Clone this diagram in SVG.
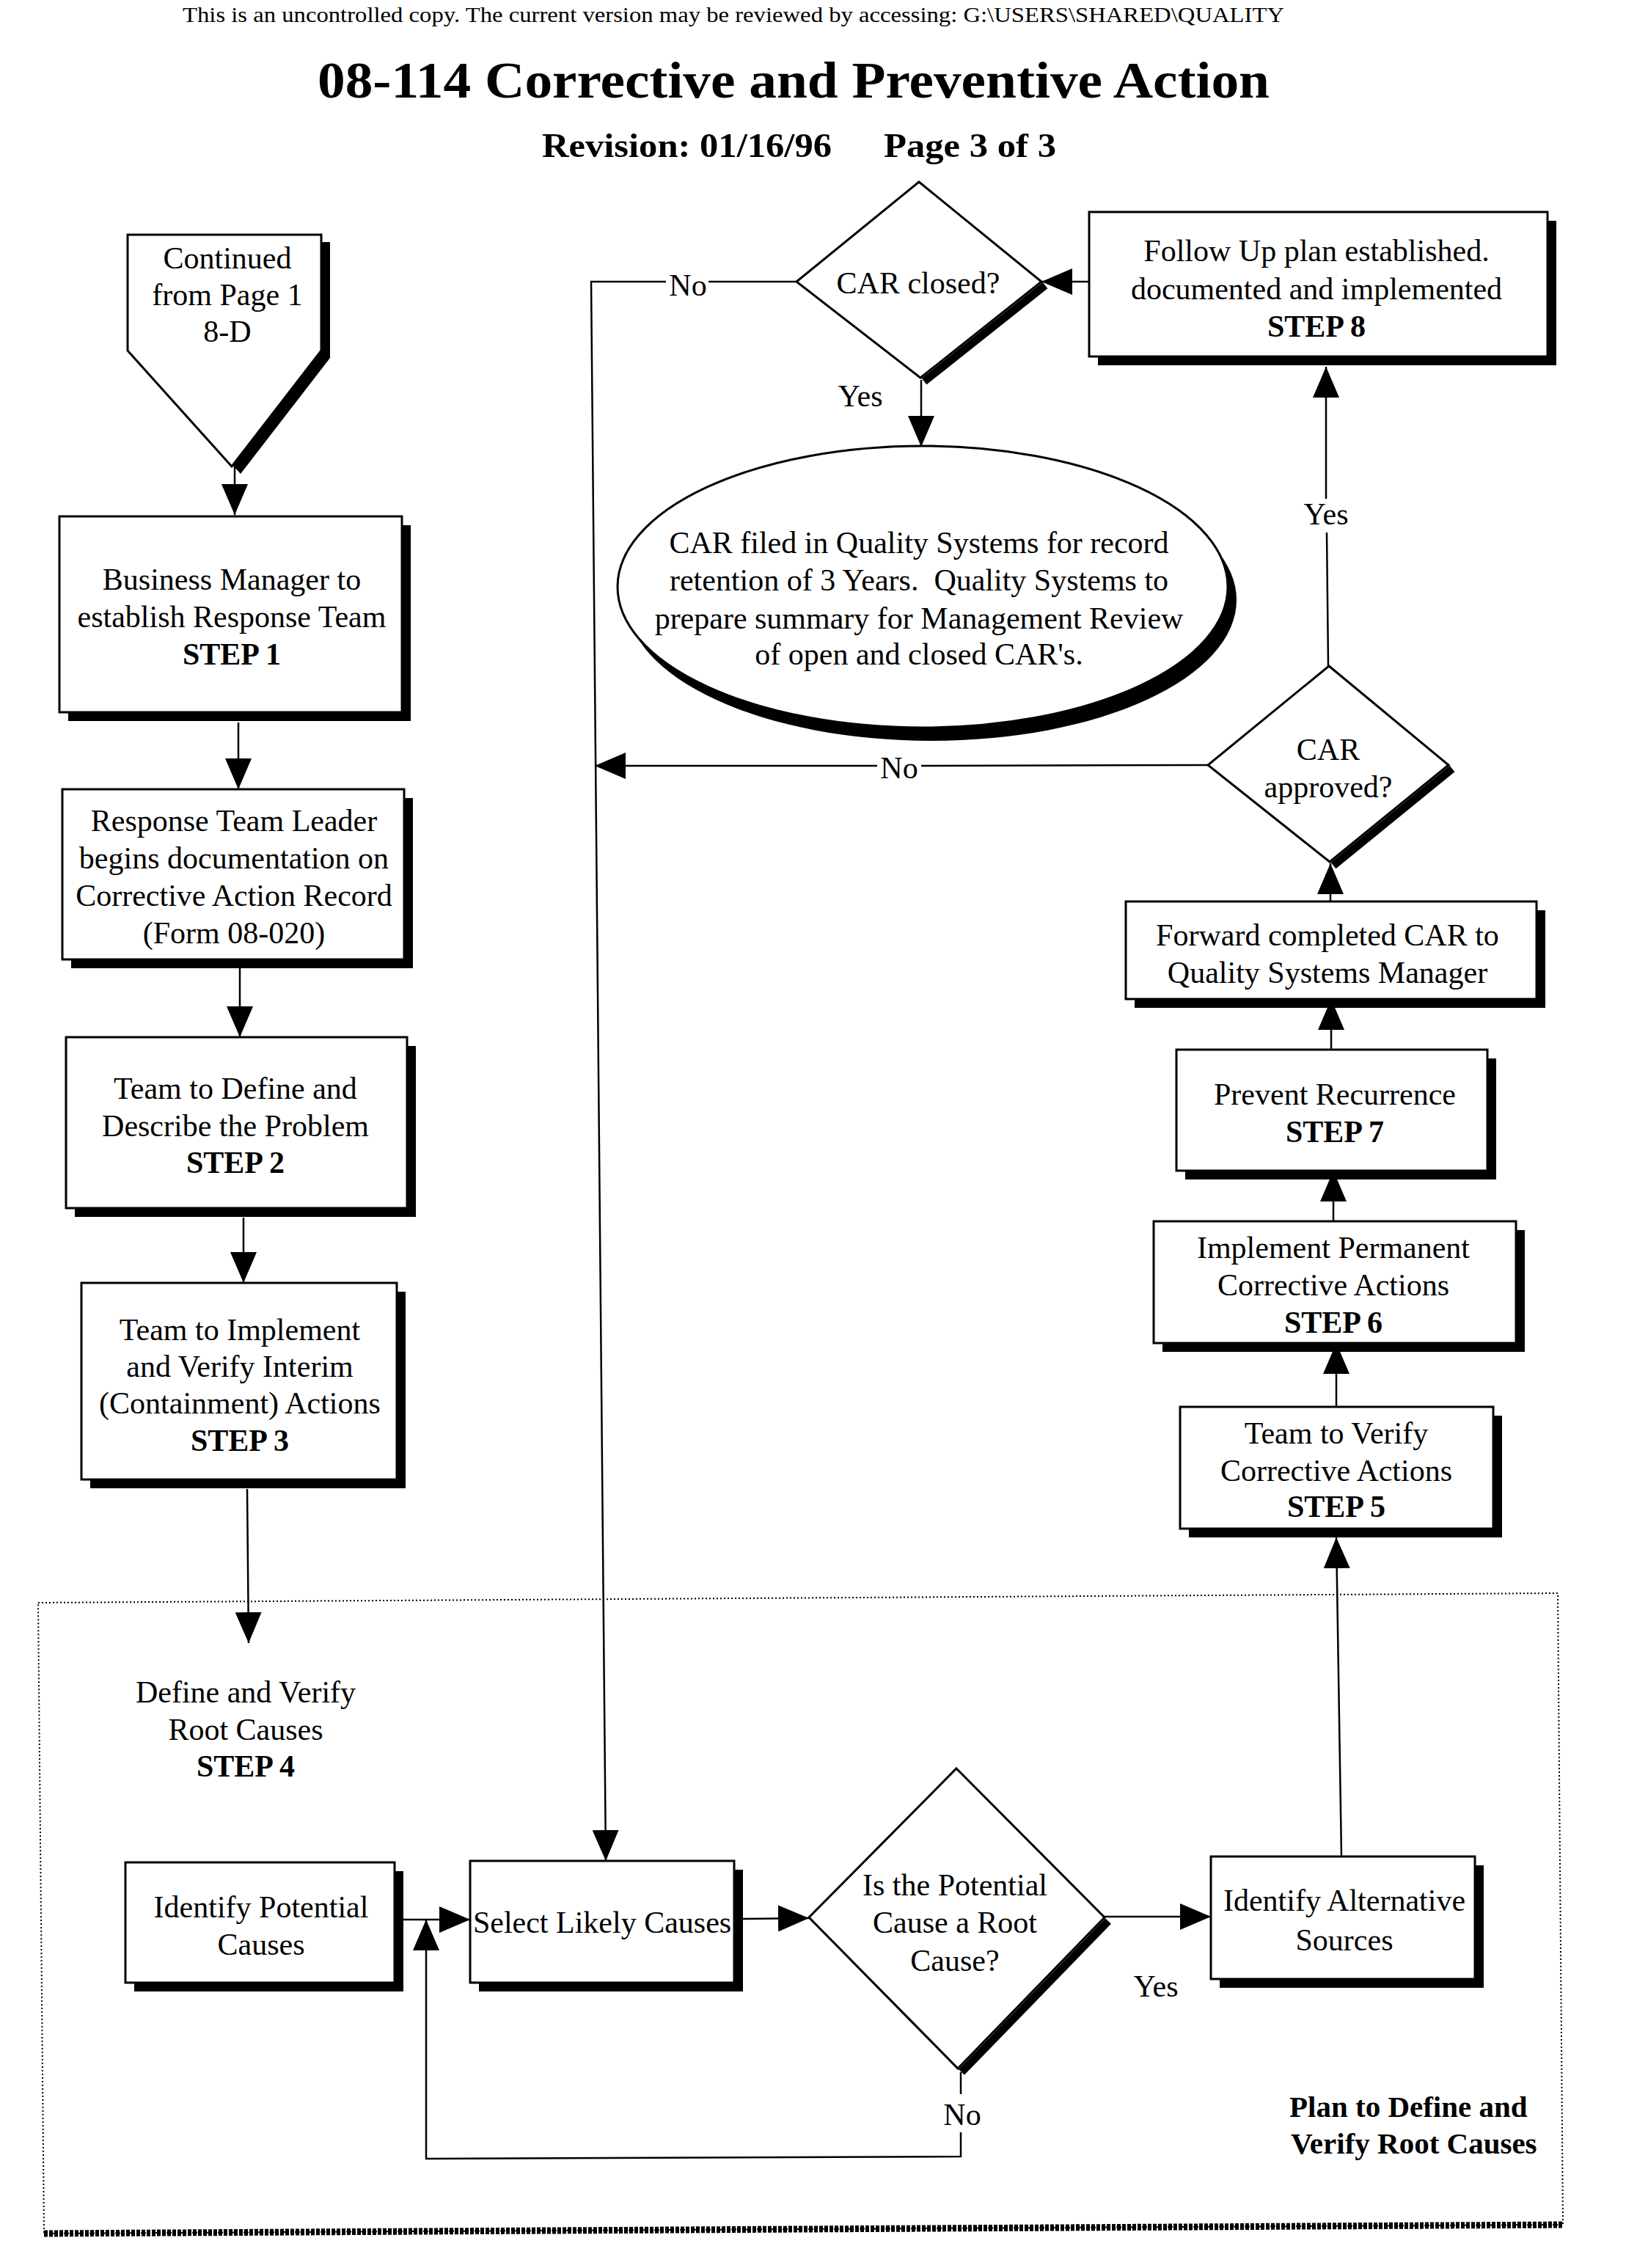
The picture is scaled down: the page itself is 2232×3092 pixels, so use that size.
<svg xmlns="http://www.w3.org/2000/svg" width="2232" height="3092" viewBox="0 0 2232 3092">
<style>
text { font-family: "Liberation Serif", "Times New Roman", serif; font-size: 42px; fill: #000; text-anchor: middle; }
.b { font-weight: bold; }
.box { fill: #fff; stroke: #000; stroke-width: 3; }
.sh { fill: #000; stroke: none; }
.dsh { stroke: #000; stroke-width: 11; fill: none; }
.ln { fill: none; stroke: #000; stroke-width: 2.5; }
.arr { marker-end: url(#ah); }
.dot { fill: none; stroke: #000; stroke-width: 2; stroke-dasharray: 2 3; }
</style>
<defs>
<marker id="ah" markerUnits="userSpaceOnUse" markerWidth="42" markerHeight="36" viewBox="0 0 42 36" refX="42" refY="18" orient="auto">
<path d="M0,0 L42,18 L0,36 z" fill="#000"/>
</marker>
</defs>
<rect width="2232" height="3092" fill="#fff"/>

<g id="header">
<text x="249" y="30" style="font-size:30px;text-anchor:start" textLength="1502" lengthAdjust="spacingAndGlyphs">This is an uncontrolled copy.  The current version may be reviewed by accessing:  G:\USERS\SHARED\QUALITY</text>
<text class="b" x="433" y="133" style="font-size:70px;text-anchor:start" textLength="1298" lengthAdjust="spacingAndGlyphs">08-114 Corrective and Preventive Action</text>
<text class="b" x="739" y="214" style="font-size:47px;text-anchor:start" textLength="395" lengthAdjust="spacingAndGlyphs">Revision:  01/16/96</text>
<text class="b" x="1205" y="214" style="font-size:47px;text-anchor:start" textLength="235" lengthAdjust="spacingAndGlyphs">Page 3 of 3</text>
</g>

<g id="plan-region">
<polygon class="dot" points="52,2185 2124,2172 2131,3033 60,3045"/>
<line x1="60" y1="3045" x2="2131" y2="3033" stroke="#000" stroke-width="9" stroke-dasharray="5 2"/>
</g>

<g id="connectors">
<line class="ln arr" x1="320" y1="636" x2="320" y2="702"/>
<line class="ln arr" x1="325" y1="985" x2="325" y2="1076"/>
<line class="ln arr" x1="327" y1="1320" x2="327" y2="1414"/>
<line class="ln arr" x1="332" y1="1660" x2="332" y2="1749"/>
<line class="ln arr" x1="337" y1="2030" x2="339" y2="2240"/>
<line class="ln arr" x1="550" y1="2617" x2="641" y2="2617"/>
<line class="ln arr" x1="1012" y1="2616" x2="1103" y2="2615"/>
<line class="ln arr" x1="1506" y1="2613" x2="1651" y2="2613"/>
<line class="ln" x1="1310" y1="2825" x2="1310" y2="2855"/>
<polyline class="ln arr" points="1310,2907 1310,2940 581,2943 581,2617"/>
<line class="ln arr" x1="1829" y1="2531" x2="1822" y2="2096"/>
<line class="ln arr" x1="1822" y1="1918" x2="1822" y2="1831"/>
<line class="ln arr" x1="1818" y1="1665" x2="1818" y2="1596"/>
<line class="ln arr" x1="1815" y1="1431" x2="1815" y2="1362"/>
<line class="ln arr" x1="1814" y1="1229" x2="1814" y2="1177"/>
<line class="ln" x1="1811" y1="908" x2="1809" y2="726"/>
<line class="ln arr" x1="1808" y1="680" x2="1808" y2="500"/>
<line class="ln" x1="1647" y1="1043" x2="1256" y2="1044"/>
<line class="ln arr" x1="1196" y1="1044" x2="811" y2="1044"/>
<line class="ln arr" x1="1485" y1="384" x2="1420" y2="384"/>
<line class="ln arr" x1="1256" y1="518" x2="1256" y2="609"/>
<line class="ln" x1="1086" y1="384" x2="966" y2="384"/>
<polyline class="ln arr" points="908,384 806,384 826,2537"/>
<text x="938" y="403">No</text>
<text x="1173" y="554">Yes</text>
<text x="1808" y="715">Yes</text>
<text x="1226" y="1061">No</text>
<text x="1576" y="2722">Yes</text>
<text x="1312" y="2897">No</text>
</g>

<g id="continued">
<polygon class="sh" points="186,330 450,330 450,488 328,646 186,488"/>
<polygon class="box" points="174,320 438,320 438,478 316,636 174,478"/>
<text x="310" y="366">Continued</text>
<text x="310" y="416">from Page 1</text>
<text x="310" y="466">8-D</text>
</g>

<g id="step1">
<rect class="sh" x="93" y="716" width="467" height="267"/>
<rect class="box" x="81" y="704" width="467" height="267"/>
<text x="316" y="804">Business Manager to</text>
<text x="316" y="855">establish Response Team</text>
<text class="b" x="316" y="906">STEP 1</text>
</g>

<g id="record">
<rect class="sh" x="97" y="1088" width="466" height="232"/>
<rect class="box" x="85" y="1076" width="466" height="232"/>
<text x="319" y="1133">Response Team Leader</text>
<text x="319" y="1184">begins documentation on</text>
<text x="319" y="1235">Corrective Action Record</text>
<text x="319" y="1286">(Form 08-020)</text>
</g>

<g id="step2">
<rect class="sh" x="102" y="1426" width="465" height="233"/>
<rect class="box" x="90" y="1414" width="465" height="233"/>
<text x="321" y="1498">Team to Define and</text>
<text x="321" y="1549">Describe the Problem</text>
<text class="b" x="321" y="1599">STEP 2</text>
</g>

<g id="step3">
<rect class="sh" x="123" y="1761" width="430" height="268"/>
<rect class="box" x="111" y="1749" width="430" height="268"/>
<text x="327" y="1827">Team to Implement</text>
<text x="327" y="1877">and Verify Interim</text>
<text x="327" y="1927">(Containment) Actions</text>
<text class="b" x="327" y="1978">STEP 3</text>
</g>

<g id="step4">
<text x="335" y="2321">Define and Verify</text>
<text x="335" y="2372">Root Causes</text>
<text class="b" x="335" y="2422">STEP 4</text>
</g>

<g id="identify-potential">
<rect class="sh" x="183" y="2551" width="367" height="164"/>
<rect class="box" x="171" y="2539" width="367" height="164"/>
<text x="356" y="2614">Identify Potential</text>
<text x="356" y="2665">Causes</text>
</g>

<g id="select-likely">
<rect class="sh" x="653" y="2549" width="360" height="166"/>
<rect class="box" x="641" y="2537" width="360" height="166"/>
<text x="821" y="2635">Select Likely Causes</text>
</g>

<g id="root-cause-decision">
<line class="dsh" x1="1511" y1="2619" x2="1311" y2="2825"/>
<polygon class="box" points="1304,2411 1506,2614 1306,2820 1103,2614"/>
<text x="1302" y="2584">Is the Potential</text>
<text x="1302" y="2635">Cause a Root</text>
<text x="1302" y="2687">Cause?</text>
</g>

<g id="identify-alternative">
<rect class="sh" x="1663" y="2543" width="360" height="167"/>
<rect class="box" x="1651" y="2531" width="360" height="167"/>
<text x="1833" y="2605">Identify Alternative</text>
<text x="1833" y="2659">Sources</text>
</g>

<g id="plan-label">
<text class="b" x="1758" y="2886" style="text-anchor:start;font-size:41px">Plan to Define and</text>
<text class="b" x="1760" y="2936" style="text-anchor:start;font-size:41px">Verify Root Causes</text>
</g>

<g id="step5">
<rect class="sh" x="1621" y="1930" width="427" height="166"/>
<rect class="box" x="1609" y="1918" width="427" height="166"/>
<text x="1822" y="1968">Team to Verify</text>
<text x="1822" y="2019">Corrective Actions</text>
<text class="b" x="1822" y="2068">STEP 5</text>
</g>

<g id="step6">
<rect class="sh" x="1585" y="1677" width="494" height="166"/>
<rect class="box" x="1573" y="1665" width="494" height="166"/>
<text x="1818" y="1715">Implement Permanent</text>
<text x="1818" y="1766">Corrective Actions</text>
<text class="b" x="1818" y="1817">STEP 6</text>
</g>

<g id="step7">
<rect class="sh" x="1616" y="1443" width="424" height="165"/>
<rect class="box" x="1604" y="1431" width="424" height="165"/>
<text x="1820" y="1506">Prevent Recurrence</text>
<text class="b" x="1820" y="1557">STEP 7</text>
</g>

<g id="forward">
<rect class="sh" x="1547" y="1241" width="560" height="133"/>
<rect class="box" x="1535" y="1229" width="560" height="133"/>
<text x="1810" y="1289">Forward completed CAR to</text>
<text x="1810" y="1340">Quality Systems Manager</text>
</g>

<g id="car-approved">
<line class="dsh" x1="1980" y1="1048" x2="1818" y2="1180"/>
<polygon class="box" points="1812,908 1975,1043 1813,1175 1647,1043"/>
<text x="1811" y="1036">CAR</text>
<text x="1811" y="1087">approved?</text>
</g>

<g id="step8">
<rect class="sh" x="1497" y="301" width="625" height="197"/>
<rect class="box" x="1485" y="289" width="625" height="197"/>
<text x="1795" y="356">Follow Up plan established.</text>
<text x="1795" y="408">documented and implemented</text>
<text class="b" x="1795" y="459">STEP 8</text>
</g>

<g id="car-closed">
<line class="dsh" x1="1425" y1="389" x2="1260" y2="520"/>
<polygon class="box" points="1253,248 1420,384 1255,515 1086,384"/>
<text x="1252" y="400">CAR closed?</text>
</g>

<g id="car-filed">
<ellipse class="sh" cx="1270" cy="818" rx="416" ry="192"/>
<ellipse class="box" cx="1258" cy="800" rx="416" ry="192"/>
<text x="1253" y="754">CAR filed in Quality Systems for record</text>
<text x="1253" y="805" xml:space="preserve">retention of 3 Years.  Quality Systems to</text>
<text x="1253" y="857">prepare summary for Management Review</text>
<text x="1253" y="906">of open and closed CAR's.</text>
</g>
</svg>
